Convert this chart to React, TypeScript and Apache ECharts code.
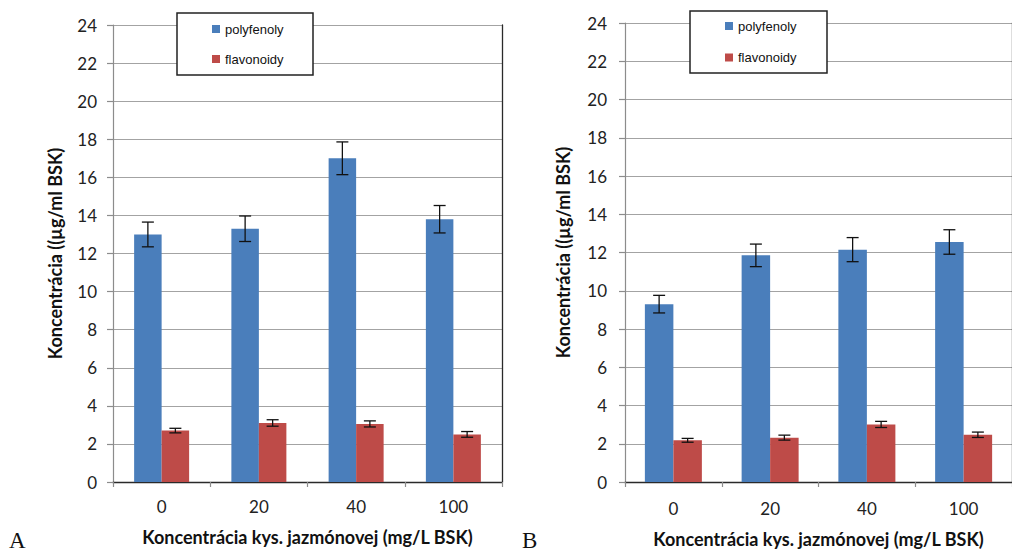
import React, { useEffect, useRef } from "react";
import * as echarts from "echarts";

const categories = ["0", "20", "40", "100"];
const seriesNames = ["polyfenoly", "flavonoidy"];

const polyA = [13.0, 13.3, 17.0, 13.8];
const polyAErr = [0.65, 0.67, 0.86, 0.72];
const flavA = [2.7, 3.1, 3.05, 2.5];
const flavAErr = [0.12, 0.17, 0.16, 0.15];

const polyB = [9.3, 11.85, 12.15, 12.55];
const polyBErr = [0.46, 0.59, 0.63, 0.64];
const flavB = [2.18, 2.32, 3.01, 2.47];
const flavBErr = [0.1, 0.13, 0.16, 0.14];

const yMin = 0;
const yMax = 24;
const yInterval = 2;

const xTitle = "Koncentrácia kys. jazmónovej (mg/L BSK)";
const yTitle = "Koncentrácia ((µg/ml BSK)";

const BLUE = "#4a7ebb";
const RED = "#be4b48";
const GRID = "#a3a3a3";
const FONT = "Lato, 'Noto Sans', sans-serif";

function errSeries(values: number[], errs: number[], gridIdx: number, offsetSign: number, barW: number, name: string) {
  return {
    type: "custom",
    name: name + " err",
    xAxisIndex: gridIdx,
    yAxisIndex: gridIdx * 2,
    z: 10,
    silent: true,
    encode: { x: 0, y: 1 },
    data: values.map((v, i) => [i, v, errs[i]]),
    renderItem: (params: any, api: any) => {
      const i = api.value(0);
      const v = api.value(1);
      const e = api.value(2);
      const c = api.coord([i, v]);
      const hi = api.coord([i, v + e]);
      const lo = api.coord([i, v - e]);
      const x = c[0] + offsetSign * barW / 2;
      const cap = 6;
      const st = { stroke: "#111", lineWidth: 1.3 };
      return {
        type: "group",
        children: [
          { type: "line", shape: { x1: x, y1: hi[1], x2: x, y2: lo[1] }, style: st },
          { type: "line", shape: { x1: x - cap, y1: hi[1], x2: x + cap, y2: hi[1] }, style: st },
          { type: "line", shape: { x1: x - cap, y1: lo[1], x2: x + cap, y2: lo[1] }, style: st },
        ],
      };
    },
  };
}

function makeXAxis(gridIndex: number, labelMargin: number, nameGap: number) {
  return {
    type: "category",
    gridIndex,
    data: categories,
    axisLine: { lineStyle: { color: "#8c8c8c", width: 1.2 } },
    axisTick: { show: true, length: 5, lineStyle: { color: "#8c8c8c", width: 1.2 } },
    axisLabel: { fontFamily: FONT, fontSize: 17, color: "#222", margin: labelMargin },
    name: xTitle,
    nameLocation: "middle",
    nameGap,
    nameTextStyle: { fontFamily: FONT, fontWeight: "bold", fontSize: 18, color: "#111" },
  };
}

function makeTopAxis(gridIndex: number) {
  return {
    type: "category",
    gridIndex,
    position: "top",
    data: categories,
    axisLine: { show: true, lineStyle: { color: "#2a2a2a", width: 1.4 } },
    axisTick: { show: false },
    axisLabel: { show: false },
    splitLine: { show: false },
  };
}

function makeYAxes(gridIndex: number, labelMargin: number, nameGap: number) {
  return [
    {
      type: "value",
      gridIndex,
      min: yMin,
      max: yMax,
      interval: yInterval,
      axisLine: { show: true, lineStyle: { color: "#8c8c8c", width: 1.2 } },
      axisTick: { show: true, length: 6, lineStyle: { color: "#8c8c8c", width: 1.2 } },
      axisLabel: { fontFamily: FONT, fontSize: 17, color: "#222", margin: labelMargin },
      splitLine: { show: true, lineStyle: { color: GRID, width: 1.2 } },
      name: yTitle,
      nameLocation: "middle",
      nameGap,
      nameRotate: 90,
      nameTextStyle: { fontFamily: FONT, fontWeight: "bold", fontSize: 18, color: "#111" },
    },
    {
      type: "value",
      gridIndex,
      position: "right",
      min: yMin,
      max: yMax,
      interval: yInterval,
      axisLine: { show: true, lineStyle: { color: "#2a2a2a", width: 1.3 } },
      axisTick: { show: false },
      axisLabel: { show: false },
      splitLine: { show: false },
    },
  ];
}

export default function App() {
  const ref = useRef<HTMLDivElement>(null);
  useEffect(() => {
    if (!ref.current) return;
    const chart = echarts.init(ref.current, undefined, { renderer: "svg" });
    const barA = 27.5;
    const barB = 28.5;
    const legendText = { fontFamily: "'Liberation Sans Narrow', 'Arial Narrow', 'Liberation Sans', sans-serif", fontSize: 13, color: "#111", lineHeight: 16 };
    const option: any = {
      animation: false,
      backgroundColor: "#ffffff",
      grid: [
        { left: 113, top: 25, width: 389, height: 457 },
        { left: 625, top: 23, width: 394, height: 463 },
      ],
      xAxis: [makeXAxis(0, 16, 46), makeXAxis(1, 18, 48), makeTopAxis(0), makeTopAxis(1)],
      yAxis: [...makeYAxes(0, 16, 49), ...makeYAxes(1, 18, 53)],
      legend: [
        {
          data: seriesNames,
          orient: "vertical",
          left: 212,
          top: 21,
          padding: 0,
          itemWidth: 8,
          itemHeight: 8,
          itemGap: 14,
          icon: "rect",
          selectedMode: false,
          textStyle: legendText,
        },
        {
          data: seriesNames,
          orient: "vertical",
          left: 725,
          top: 18,
          padding: 0,
          itemWidth: 8,
          itemHeight: 8,
          itemGap: 15.5,
          icon: "rect",
          selectedMode: false,
          textStyle: legendText,
        },
      ],
      graphic: [
        { type: "rect", z: 3, shape: { x: 177, y: 13, width: 136, height: 62 }, style: { fill: "#fff", stroke: "#222", lineWidth: 1.5 } },
        { type: "rect", z: 3, shape: { x: 690, y: 11, width: 137, height: 62 }, style: { fill: "#fff", stroke: "#222", lineWidth: 1.5 } },
        { type: "text", z: 3, left: 9, top: 529, style: { text: "A", fontFamily: "'Liberation Serif', 'DejaVu Serif', serif", fontSize: 23, fill: "#111" } },
        { type: "text", z: 3, left: 522, top: 529, style: { text: "B", fontFamily: "'Liberation Serif', 'DejaVu Serif', serif", fontSize: 23, fill: "#111" } },
      ],
      series: [
        { type: "bar", name: seriesNames[0], xAxisIndex: 0, yAxisIndex: 0, data: polyA, barWidth: barA, barGap: "0%", itemStyle: { color: BLUE } },
        { type: "bar", name: seriesNames[1], xAxisIndex: 0, yAxisIndex: 0, data: flavA, barWidth: barA, barGap: "0%", itemStyle: { color: RED } },
        { type: "bar", name: seriesNames[0], xAxisIndex: 1, yAxisIndex: 2, data: polyB, barWidth: barB, barGap: "0%", itemStyle: { color: BLUE } },
        { type: "bar", name: seriesNames[1], xAxisIndex: 1, yAxisIndex: 2, data: flavB, barWidth: barB, barGap: "0%", itemStyle: { color: RED } },
        errSeries(polyA, polyAErr, 0, -1, barA, seriesNames[0]),
        errSeries(flavA, flavAErr, 0, 1, barA, seriesNames[1]),
        errSeries(polyB, polyBErr, 1, -1, barB, seriesNames[0]),
        errSeries(flavB, flavBErr, 1, 1, barB, seriesNames[1]),
      ],
    };
    chart.setOption(option);
    return () => chart.dispose();
  }, []);
  return (
    <div
      ref={ref}
      style={{ position: "fixed", left: 0, top: 0, width: 1012, height: 553, background: "#fff" }}
    />
  );
}
